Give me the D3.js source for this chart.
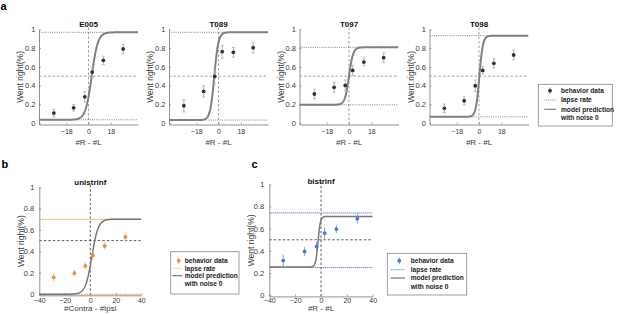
<!DOCTYPE html>
<html><head><meta charset="utf-8">
<script src="https://cdn.jsdelivr.net/npm/d3@7"></script>
<style>body{margin:0;background:#fff}svg{display:block;font-family:"Liberation Sans",Arial,sans-serif}</style>
</head><body>
<svg id="c" width="617" height="314"></svg>
<script>
// ---------- data ----------
const subjects = ["E005","T089","T097","T098"];
const xBinsA = [-28,-12,-3,3,12,28];
const meanE005 = [0.107,0.163,0.28,0.544,0.669,0.79];
const meanT089 = [0.185,0.338,0.498,0.761,0.754,0.804];
const meanT097 = [0.31,0.381,0.402,0.562,0.651,0.697];
const meanT098 = [0.157,0.238,0.398,0.562,0.637,0.726];
const errE005 = [0.04,0.035,0.058,0.057,0.045,0.05];
const errT089 = [0.066,0.06,0.08,0.068,0.053,0.058];
const errT097 = [0.052,0.052,0.057,0.055,0.041,0.05];
const errT098 = [0.046,0.043,0.062,0.04,0.05,0.053];
const lapseLowA = [0.035,0.032,0.195,0.067];
const lapseHighA = [0.968,0.968,0.808,0.932];
const modelCenterA = [2.6,-3.4,0,0.3];
const modelSlopeA = [0.4,0.6,0.6,0.7];
const xTicksA = [-18,0,18];

const xUni = [-28.7,-12.5,-3.9,2.1,11.3,27.5];
const meanUni = [0.158,0.196,0.264,0.363,0.45,0.534];
const errUni = [0.039,0.031,0.036,0.042,0.036,0.042];
const lapseUni = [0,0.699];
const modelUni = {lo:0, hi:0.7, center:1.2, slope:0.4};

const xBi = [-29.2,-12.7,-3.4,2.8,11.9,28.1];
const meanBi = [0.313,0.395,0.44,0.56,0.597,0.69];
const errBi = [0.053,0.039,0.042,0.05,0.039,0.045];
const lapseBi = [0.25,0.742];
const modelBi = {lo:0.255, hi:0.71, center:-2.3, slope:1.1};

const xTicksBC = [-40,-20,0,20,40];
const yTicks = [0,0.2,0.4,0.6,0.8,1];
const legendLabels = ["behavior data","lapse rate","model prediction","with noise 0"];

const meansA = [meanE005,meanT089,meanT097,meanT098];
const errsA = [errE005,errT089,errT097,errT098];

// ---------- drawing ----------
const svg = d3.select("#c");

function panel(o){
  const x = d3.scaleLinear().domain([-40,40]).range([o.x0,o.x1]);
  const y = d3.scaleLinear().domain(o.yd).range([o.yb,o.yt]);
  const g = svg.append("g");
  const cid = "clip"+Math.random().toString(36).slice(2);
  g.append("clipPath").attr("id",cid).append("rect")
    .attr("x",o.x0).attr("y",o.yt-3).attr("width",o.x1-o.x0).attr("height",o.yb-o.yt+3);
  const pg = g.append("g").attr("clip-path",`url(#${cid})`);

  // reference lines
  pg.append("line").attr("x1",o.x0).attr("x2",o.x1).attr("y1",y(0.5)).attr("y2",y(0.5))
    .attr("stroke",o.refColor).attr("stroke-width",0.8).attr("stroke-dasharray","2.5,2");
  pg.append("line").attr("x1",x(0)).attr("x2",x(0)).attr("y1",o.yb).attr("y2",o.yt-3)
    .attr("stroke",o.refColor).attr("stroke-width",0.8).attr("stroke-dasharray","2.5,2");
  // lapse lines
  o.lapse.forEach(v=>{
    pg.append("line").attr("x1",o.x0).attr("x2",o.x1).attr("y1",y(v)).attr("y2",y(v))
      .attr("stroke",o.lapseColor).attr("stroke-width",o.lapseWidth).attr("stroke-dasharray",o.lapseDash);
  });
  // model curve
  const m = o.model;
  const xs = d3.range(-40,40.01,0.25);
  const line = d3.line().x(d=>x(d)).y(d=>y(m.lo+(m.hi-m.lo)/(1+Math.exp(-m.slope*(d-m.center)))));
  pg.append("path").datum(xs).attr("d",line).attr("fill","none")
    .attr("stroke",o.curveColor).attr("stroke-width",o.curveWidth);
  // error bars + points
  o.xs.forEach((xv,i)=>{
    const mv=o.means[i], e=o.errs[i];
    pg.append("line").attr("x1",x(xv)).attr("x2",x(xv)).attr("y1",y(mv-e)).attr("y2",y(mv+e))
      .attr("stroke",o.errColor).attr("stroke-width",0.9);
    if(o.caps){
      [mv-e,mv+e].forEach(v=>pg.append("line").attr("x1",x(xv)-1.5).attr("x2",x(xv)+1.5)
        .attr("y1",y(v)).attr("y2",y(v)).attr("stroke",o.errColor).attr("stroke-width",0.8));
    }
    pg.append("circle").attr("cx",x(xv)).attr("cy",y(mv)).attr("r",1.9).attr("fill",o.ptColor);
  });

  // axes
  const ax = g.append("g").attr("transform",`translate(0,${o.yb})`)
    .call(d3.axisBottom(x).tickValues(o.xticks).tickSizeInner(-2).tickSizeOuter(0).tickPadding(4));
  const ay = g.append("g").attr("transform",`translate(${o.x0},0)`)
    .call(d3.axisLeft(y).tickValues(yTicks).tickFormat(d3.format("~g")).tickSizeInner(-2).tickSizeOuter(0).tickPadding(o.yPad));
  [ax,ay].forEach(a=>{
    a.select(".domain").attr("stroke","#777").attr("stroke-width",0.8);
    a.selectAll(".tick line").attr("stroke","#777").attr("stroke-width",0.6);
    a.selectAll(".tick text").attr("fill","#3a3a3a").style("font-family","Liberation Sans, Arial");
  });
  ay.selectAll(".tick text").style("font-size","7.5px");
  ax.selectAll(".tick text").style("font-size","7px").attr("dy",null).attr("y",o.xtickY - o.yb);
  // titles
  g.append("text").attr("x",(o.x0+o.x1)/2).attr("y",o.titleY).attr("text-anchor","middle")
    .attr("font-weight","bold").attr("font-size",8).attr("fill","#111").text(o.title);
  g.append("text").attr("x",(o.x0+o.x1)/2).attr("y",o.xlabY).attr("text-anchor","middle")
    .attr("font-size",8).attr("fill","#3a3a3a").text(o.xlab);
  const ly=(o.yt+o.yb)/2;
  g.append("text").attr("transform",`translate(${o.x0-18.5},${ly}) rotate(-90)`)
    .attr("text-anchor","middle").attr("dy","0.35em").attr("font-size",8.5).attr("fill","#3a3a3a").text("Went right(%)");
}

function legend(o){
  const g = svg.append("g");
  g.append("rect").attr("x",o.x).attr("y",o.y).attr("width",o.w).attr("height",o.h)
    .attr("fill","#fff").attr("stroke","#888").attr("stroke-width",0.8);
  legendLabels.forEach((t,i)=>{
    g.append("text").attr("x",o.tx).attr("y",o.rows[i]).attr("dy","0.35em")
      .attr("font-size",6.6).attr("font-weight","bold").attr("fill","#222").text(t);
  });
  g.append("line").attr("x1",o.mx).attr("x2",o.mx).attr("y1",o.rows[0]-3.5).attr("y2",o.rows[0]+3.5)
    .attr("stroke",o.errColor).attr("stroke-width",0.9);
  g.append("circle").attr("cx",o.mx).attr("cy",o.rows[0]).attr("r",1.9).attr("fill",o.ptColor);
  g.append("line").attr("x1",o.l0).attr("x2",o.l1).attr("y1",o.rows[1]).attr("y2",o.rows[1])
    .attr("stroke",o.lapseColor).attr("stroke-width",0.9).attr("stroke-dasharray","1,1");
  g.append("line").attr("x1",o.l0).attr("x2",o.l1).attr("y1",o.rows[2]).attr("y2",o.rows[2])
    .attr("stroke",o.curveColor).attr("stroke-width",1.2);
}

// panel a
const aX0 = [39,169,299.5,429.5];
subjects.forEach((s,i)=>{
  panel({x0:aX0[i],x1:aX0[i]+99,yt:29.3,yb:124.5,yd:[-0.015,1],yPad:3.5,
    xs:xBinsA,means:meansA[i],errs:errsA[i],lapse:[lapseLowA[i],lapseHighA[i]],
    model:{lo:lapseLowA[i],hi:lapseHighA[i],center:modelCenterA[i],slope:modelSlopeA[i]},
    xticks:xTicksA,title:s,titleY:27,xtickY:134,xlabY:144.5,xlab:"#R - #L",
    refColor:"#8a8a8a",lapseColor:"#777",lapseWidth:0.9,lapseDash:"1,1.2",
    curveColor:"#808080",curveWidth:2,errColor:"#b0b0b0",ptColor:"#333",caps:true});
});
legend({x:538.3,y:84.3,w:74,h:41.7,tx:561,mx:550,l0:544.3,l1:556,rows:[90.7,100,109.3,118],
  errColor:"#999",ptColor:"#333",lapseColor:"#777",curveColor:"#808080"});

// panel b
panel({x0:39.3,x1:141.3,yt:187,yb:295.3,yd:[-0.01,1],yPad:5,
  xs:xUni,means:meanUni,errs:errUni,lapse:lapseUni,model:modelUni,
  xticks:xTicksBC,title:"unistrinf",titleY:185.3,xtickY:303.5,xlabY:311,xlab:"#Contra - #Ipsi",
  refColor:"#333",lapseColor:"#F2A85E",lapseWidth:1,lapseDash:"2,0.6",
  curveColor:"#777",curveWidth:1.5,errColor:"#F2B070",ptColor:"#E8913A",caps:false});
legend({x:170.7,y:251.7,w:68.3,h:42.3,tx:184.7,mx:178.7,l0:172.3,l1:182.3,rows:[260.7,268.3,275.7,283.7],
  errColor:"#F2B070",ptColor:"#E8913A",lapseColor:"#F2A85E",curveColor:"#777"});

// panel c
panel({x0:269.3,x1:372.7,yt:184.3,yb:296.4,yd:[-0.01,1],yPad:5,
  xs:xBi,means:meanBi,errs:errBi,lapse:lapseBi,model:modelBi,
  xticks:xTicksBC,title:"bistrinf",titleY:184,xtickY:303.5,xlabY:311.3,xlab:"#R - #L",
  refColor:"#333",lapseColor:"#4455CC",lapseWidth:1,lapseDash:"1,1",
  curveColor:"#777",curveWidth:1.5,errColor:"#6D90E6",ptColor:"#4A78E0",caps:false});
legend({x:387.3,y:253.3,w:79.4,h:41.7,tx:410.7,mx:399.3,l0:390.7,l1:405,rows:[260.7,269.7,278,286.7],
  errColor:"#6D90E6",ptColor:"#4A78E0",lapseColor:"#4455CC",curveColor:"#777"});

// panel letters
svg.append("text").attr("x",0.5).attr("y",9.5).attr("font-size",11).attr("font-weight","bold").text("a");
svg.append("text").attr("x",1.5).attr("y",168.3).attr("font-size",11).attr("font-weight","bold").text("b");
svg.append("text").attr("x",251.5).attr("y",168.3).attr("font-size",11).attr("font-weight","bold").text("c");
</script>
</body></html>
